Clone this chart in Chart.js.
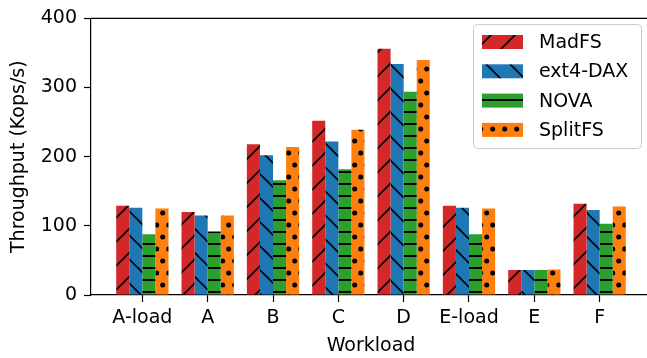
<!DOCTYPE html>
<html lang="en">
<head>
    <meta charset="UTF-8">
    <title>Throughput per Workload</title>
    <script src="https://cdn.jsdelivr.net/npm/chart.js"></script>
    <style>
        html, body { margin: 0; padding: 0; overflow: hidden; background: #fff; }
        #wrap { width: 652px; height: 358px; }
    </style>
</head>
<body>
    <div id="wrap"><canvas id="throughputChart" width="652" height="358"></canvas></div>

    <script>
        // data (Kops/s)
        const workloads = ['A-load', 'A', 'B', 'C', 'D', 'E-load', 'E', 'F'];
        const madfs   = [129, 120, 218, 252, 356, 129, 36, 132];
        const ext4dax = [126, 115, 202, 222, 334, 126, 36, 123];
        const nova    = [88, 92, 166, 182, 294, 88, 36, 103];
        const splitfs = [125, 115, 214, 239, 340, 125, 37, 128];
        const yTicks  = [0, 100, 200, 300, 400];

        const FONT = 'DejaVu Sans';

        // hatch tiles, anchored to the canvas origin like matplotlib hatches
        function makePattern(color, w, h, draw) {
            const c = document.createElement('canvas');
            c.width = w; c.height = h;
            const g = c.getContext('2d');
            g.fillStyle = color;
            g.fillRect(0, 0, w, h);
            g.strokeStyle = '#000';
            g.fillStyle = '#000';
            draw(g);
            return document.getElementById('throughputChart').getContext('2d').createPattern(c, 'repeat');
        }

        const hatchSlash = makePattern('#d62728', 24, 24, g => {
            g.lineWidth = 1.6;
            g.beginPath();
            // lines x + y = 22 (mod 24)
            for (let k = -1; k <= 1; k++) {
                g.moveTo(-2 + k * 24, 24);
                g.lineTo(22 + k * 24 + 2, -2);
            }
            g.moveTo(-24, 70); g.lineTo(70, -24);
            g.stroke();
        });

        const hatchBack = makePattern('#1f77b4', 24, 24, g => {
            g.lineWidth = 1.6;
            g.beginPath();
            // lines y - x = 10 (mod 24)
            for (let k = -2; k <= 1; k++) {
                const c = 10 + k * 24;
                g.moveTo(-2, c - 2);
                g.lineTo(26, c + 26);
            }
            g.stroke();
        });

        const hatchDash = makePattern('#2ca02c', 12, 12, g => {
            g.fillRect(0, 3, 12, 2);
        });

        const hatchDots = makePattern('#ff7f0e', 12, 24, g => {
            const pts = [[0.7, 9], [12.7, 9], [-11.3, 9], [6.7, 21], [6.7, -3]];
            pts.forEach(p => {
                g.beginPath();
                g.arc(p[0], p[1], 2.5, 0, Math.PI * 2);
                g.fill();
            });
        });

        const seriesNames = ['MadFS', 'ext4-DAX', 'NOVA', 'SplitFS'];
        const seriesValues = [madfs, ext4dax, nova, splitfs];
        const seriesFills = [hatchSlash, hatchBack, hatchDash, hatchDots];

        const datasets = seriesNames.map((name, i) => ({
            label: name,
            data: seriesValues[i].map((v, j) => ({ x: j, y: v })),
            backgroundColor: seriesFills[i],
            borderWidth: 0,
            categoryPercentage: 0.8,
            barPercentage: 1.0
        }));

        // top/right spines
        const framePlugin = {
            id: 'frame',
            afterDraw(chart) {
                const { ctx, chartArea: a } = chart;
                ctx.save();
                ctx.strokeStyle = '#000';
                ctx.lineWidth = 1.2;
                ctx.beginPath();
                ctx.moveTo(a.left, a.top);
                ctx.lineTo(a.right, a.top);
                ctx.lineTo(a.right, a.bottom);
                ctx.stroke();
                ctx.restore();
            }
        };

        // matplotlib-style legend box in the upper right
        const legendPlugin = {
            id: 'hatchLegend',
            afterDraw(chart) {
                const ctx = chart.ctx;
                const x0 = 473, y0 = 24, w = 168, h = 124;
                ctx.save();
                ctx.fillStyle = 'rgba(255,255,255,0.8)';
                ctx.strokeStyle = '#cccccc';
                ctx.lineWidth = 1;
                ctx.beginPath();
                ctx.roundRect(x0 + 0.5, y0 + 0.5, w, h, 4);
                ctx.fill();
                ctx.stroke();
                ctx.font = '19px "' + FONT + '"';
                ctx.textBaseline = 'middle';
                ctx.fillStyle = '#000';
                chart.data.datasets.forEach((ds, i) => {
                    const cy = 42 + i * 29.3;
                    ctx.fillStyle = ds.backgroundColor;
                    ctx.fillRect(482, cy - 7, 41, 14);
                    ctx.fillStyle = '#000';
                    ctx.fillText(ds.label, 539, cy + 1);
                });
                ctx.restore();
            }
        };

        new Chart(document.getElementById('throughputChart'), {
            type: 'bar',
            data: { datasets: datasets },
            plugins: [framePlugin, legendPlugin],
            options: {
                responsive: false,
                animation: false,
                layout: { padding: { left: 0, top: 16, right: 1, bottom: 0 } },
                plugins: {
                    legend: { display: false },
                    tooltip: { enabled: false }
                },
                scales: {
                    x: {
                        type: 'linear',
                        offset: false,
                        min: -0.786,
                        max: 7.786,
                        afterFit(scale) { scale.height = 63; },
                        afterBuildTicks(scale) {
                            scale.ticks = workloads.map((w, i) => ({ value: i }));
                        },
                        ticks: {
                            autoSkip: false,
                            maxRotation: 0,
                            includeBounds: false,
                            color: '#000',
                            padding: 5,
                            font: { family: FONT, size: 19 },
                            callback: v => workloads[v]
                        },
                        grid: {
                            display: true,
                            offset: false,
                            drawOnChartArea: false,
                            drawTicks: true,
                            tickLength: 7,
                            tickColor: '#000',
                            tickWidth: 1.2
                        },
                        border: { display: true, color: '#000', width: 1.2 },
                        title: {
                            display: true,
                            text: 'Workload',
                            color: '#000',
                            font: { family: FONT, size: 19 },
                            padding: { top: 0, bottom: 1 }
                        }
                    },
                    y: {
                        min: 0,
                        max: 400,
                        afterFit(scale) { scale.width = 91; },
                        afterBuildTicks(scale) {
                            scale.ticks = yTicks.map(v => ({ value: v }));
                        },
                        ticks: {
                            color: '#000',
                            padding: 7,
                            font: { family: FONT, size: 19 }
                        },
                        grid: {
                            display: true,
                            drawOnChartArea: false,
                            drawTicks: true,
                            tickLength: 7,
                            tickColor: '#000',
                            tickWidth: 1.2
                        },
                        border: { display: true, color: '#000', width: 1.2 },
                        title: {
                            display: true,
                            text: 'Throughput (Kops/s)',
                            color: '#000',
                            font: { family: FONT, size: 19 },
                            padding: { top: 8, bottom: 0 }
                        }
                    }
                }
            }
        });
    </script>
</body>
</html>
